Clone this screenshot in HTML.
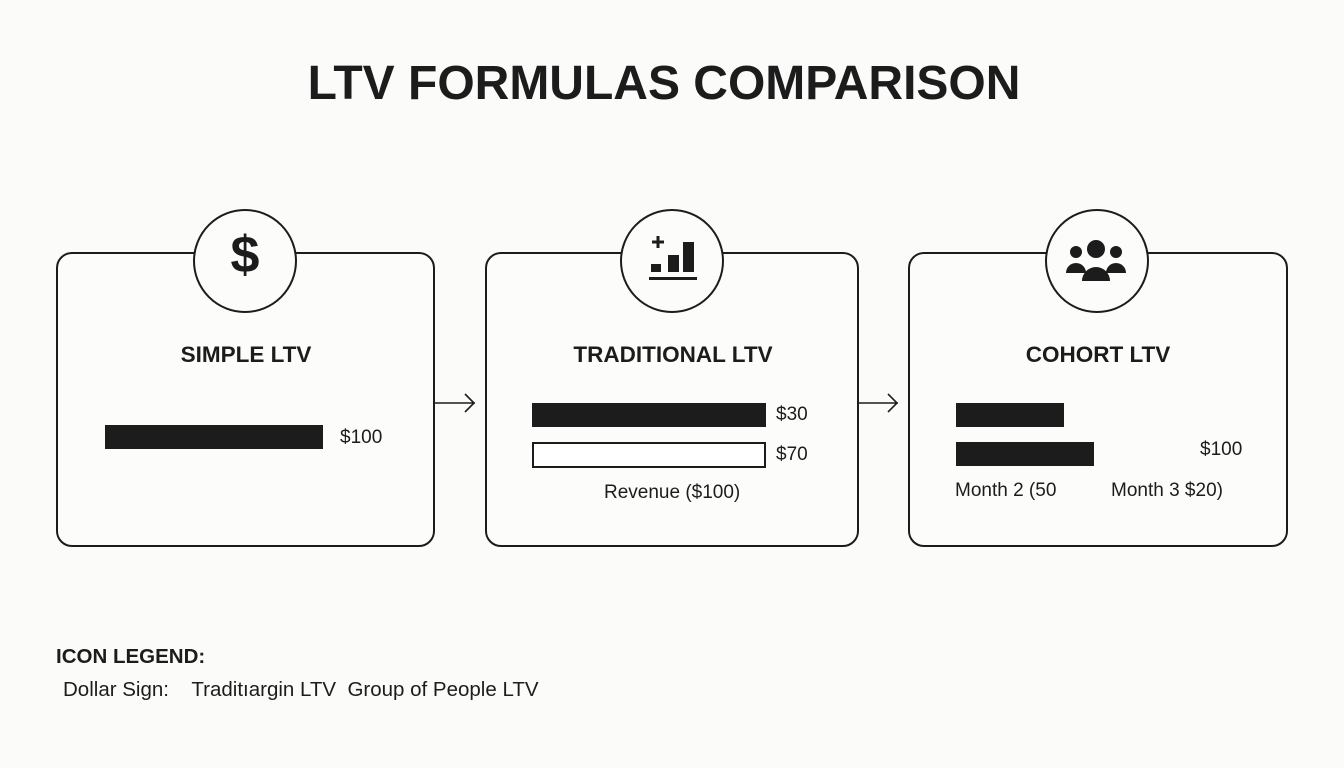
<!DOCTYPE html>
<html><head><style>
body{margin:0;width:1344px;height:768px;background:#fbfbfa;font-family:"Liberation Sans",sans-serif;color:#1c1c1c;position:relative;overflow:hidden}
.a{position:absolute}
.box{position:absolute;border:2px solid #1c1c1c;border-radius:16px;background:#fcfcfb}
.circ{position:absolute;width:100px;height:100px;border:2px solid #1c1c1c;border-radius:50%;background:#fcfcfb}
.t{position:absolute;font-weight:bold;font-size:22.5px;text-align:center}
.bar{position:absolute;background:#1c1c1c}
.l{position:absolute;font-size:19px}
</style></head><body>
<div class="a" style="left:0;width:1328px;top:56px;text-align:center;font-weight:bold;font-size:48px">LTV FORMULAS COMPARISON</div>

<div class="box" style="left:56px;top:252px;width:375px;height:291px"></div>
<div class="box" style="left:485px;top:252px;width:370px;height:291px"></div>
<div class="box" style="left:908px;top:252px;width:376px;height:291px"></div>

<div class="circ" style="left:193px;top:209px"></div>
<div class="a" style="left:193px;top:225px;width:104px;text-align:center;font-size:52px;font-weight:bold">$</div>
<div class="circ" style="left:620px;top:209px"></div>
<svg class="a" style="left:620px;top:209px" width="104" height="104"><path d="M32 33h12M38 27v12" stroke="#1c1c1c" stroke-width="3"/><rect x="31" y="55" width="10" height="8" fill="#1c1c1c"/><rect x="48" y="46" width="11" height="17" fill="#1c1c1c"/><rect x="63" y="33" width="11" height="30" fill="#1c1c1c"/><rect x="29" y="68" width="48" height="3" fill="#1c1c1c"/></svg>
<div class="circ" style="left:1045px;top:209px"></div>
<svg class="a" style="left:1045px;top:209px" width="104" height="104"><circle cx="31" cy="43" r="6" fill="#1c1c1c"/><circle cx="71" cy="43" r="6" fill="#1c1c1c"/><circle cx="51" cy="40" r="9" fill="#1c1c1c"/><path d="M21 64a10 10 0 0 1 20 0zM61 64a10 10 0 0 1 20 0zM37 72a14 14 0 0 1 28 0z" fill="#1c1c1c"/></svg>

<div class="t" style="left:56px;width:380px;top:342px">SIMPLE LTV</div>
<div class="t" style="left:485px;width:376px;top:342px">TRADITIONAL LTV</div>
<div class="t" style="left:908px;width:380px;top:342px">COHORT LTV</div>

<div class="bar" style="left:105px;top:425px;width:218px;height:24px"></div>
<div class="l" style="left:340px;top:427px">$100</div>

<div class="bar" style="left:532px;top:403px;width:234px;height:24px"></div>
<div class="a" style="left:532px;top:442px;width:230px;height:22px;border:2px solid #1c1c1c;background:#fff"></div>
<div class="l" style="left:776px;top:404px">$30</div>
<div class="l" style="left:776px;top:444px">$70</div>
<div class="l" style="left:604px;top:482px">Revenue ($100)</div>

<div class="bar" style="left:956px;top:403px;width:108px;height:24px"></div>
<div class="bar" style="left:956px;top:442px;width:138px;height:24px"></div>
<div class="l" style="left:1200px;top:439px">$100</div>
<div class="l" style="left:955px;top:480px">Month 2 (50</div>
<div class="l" style="left:1111px;top:480px">Month 3 $20)</div>

<svg class="a" style="left:433px;top:390px" width="480" height="30"><path d="M2 13h40M32 4l9 9-9 9" fill="none" stroke="#1c1c1c" stroke-width="1.6"/><path d="M425 13h40M455 4l9 9-9 9" fill="none" stroke="#1c1c1c" stroke-width="1.6"/></svg>

<div class="a" style="left:56px;top:645px;font-weight:bold;font-size:20.5px">ICON LEGEND:</div>
<div class="l" style="left:63px;top:678px;font-size:20.5px">Dollar Sign:&nbsp;&nbsp;&nbsp; Traditıargin LTV&nbsp; Group of People LTV</div>
</body></html>
